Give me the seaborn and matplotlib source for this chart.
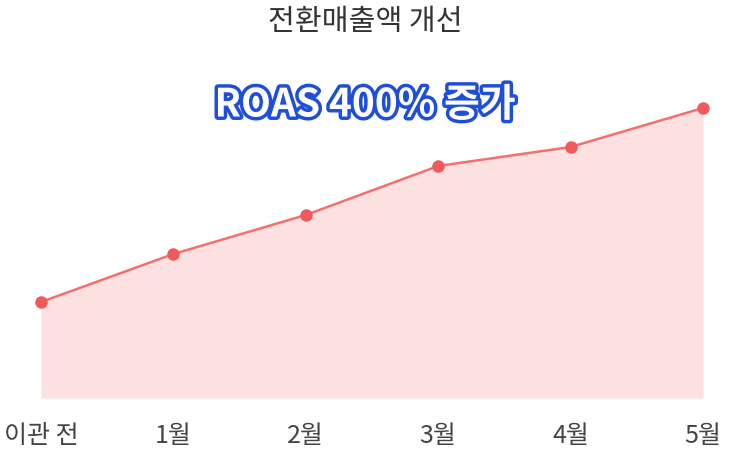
import pandas as pd
import matplotlib.pyplot as plt
import matplotlib.patheffects as pe
import seaborn as sns

# 데이터
months = ['이관 전', '1월', '2월', '3월', '4월', '5월']
sales = [96, 144, 183, 232, 251, 290]

sns.set_style('white')
plt.rcParams['font.family'] = ['Noto Sans CJK KR', 'DejaVu Sans']

df = pd.DataFrame({'month': months, 'sales': sales, 'x': range(len(months))})

fig = plt.figure(figsize=(7.3, 4.51), dpi=100)
ax = fig.add_axes([41 / 730, 1 - 398 / 451, 662 / 730, 300 / 451])

ax.fill_between(df['x'], df['sales'], 0, color='#fde0e0', lw=0)
sns.lineplot(data=df, x='x', y='sales', ax=ax, color='#f36f70', lw=1.8,
             marker='o', markersize=9, markeredgewidth=0, markerfacecolor='#f05a5c',
             clip_on=False)

ax.set_xlim(0, len(months) - 1)
ax.set_ylim(0, 300)
ax.set_xticks(df['x'])
ax.set_xticklabels(months, fontsize=18, color='#444444')
ax.tick_params(axis='x', length=0, pad=18)
ax.set_yticks([])
ax.set_xlabel('')
ax.set_ylabel('')
sns.despine(ax=ax, left=True, bottom=True)

fig.text(0.5, 1 - 22 / 451, '전환매출액 개선', ha='center', va='center',
         fontsize=21, color='#333333')
fig.text(0.5, 1 - 105 / 451, 'ROAS 400% 증가', ha='center', va='center',
         fontsize=28, fontweight='bold', color='white',
         path_effects=[pe.withStroke(linewidth=5, foreground='#1f4fd8')])

plt.savefig('out.png', dpi=100)
